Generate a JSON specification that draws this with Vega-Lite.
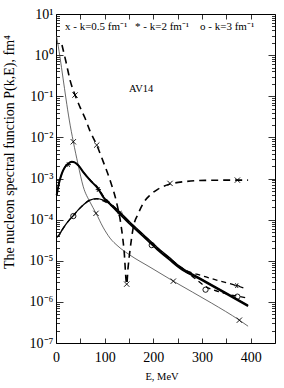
{
  "$schema": "https://vega.github.io/schema/vega-lite/v6.json",
  "width": 219,
  "height": 329,
  "autosize": {"type": "none"},
  "padding": {"left": 56, "top": 14, "right": 9, "bottom": 45},
  "background": "white",
  "config": {
    "view": {"stroke": "black", "strokeWidth": 1},
    "font": "Liberation Serif",
    "axis": {"grid": false, "domain": false, "tickColor": "black", "labelColor": "black", "titleColor": "black", "labelFont": "Liberation Serif", "titleFont": "Liberation Serif", "titleFontWeight": "normal", "tickWidth": 0.8, "labelOverlap": false, "labelBound": false, "labelFlush": false}
  },
  "datasets": {
    "curves": [
      {"c": "k05s", "E": 1.0, "P": 2.92}, {"c": "k05s", "E": 8.2, "P": 0.90}, {"c": "k05s", "E": 14.4, "P": 0.277}, {"c": "k05s", "E": 20.6, "P": 0.0855}, {"c": "k05s", "E": 27.3, "P": 0.0264}, {"c": "k05s", "E": 35.6, "P": 0.00782}, {"c": "k05s", "E": 45.2, "P": 0.00224}, {"c": "k05s", "E": 56.1, "P": 0.000628}, {"c": "k05s", "E": 69.9, "P": 0.000267}, {"c": "k05s", "E": 82.2, "P": 0.000144}, {"c": "k05s", "E": 96.6, "P": 0.0000657}, {"c": "k05s", "E": 111, "P": 0.0000355}, {"c": "k05s", "E": 127.4, "P": 0.0000226}, {"c": "k05s", "E": 152.1, "P": 0.0000137}, {"c": "k05s", "E": 193.2, "P": 0.00000698}, {"c": "k05s", "E": 241.1, "P": 0.00000319}, {"c": "k05s", "E": 320, "P": 0.000000929}, {"c": "k05s", "E": 376.8, "P": 0.000000359}, {"c": "k05s", "E": 394.7, "P": 0.000000256},
      {"c": "k05d", "E": 12.3, "P": 1.76}, {"c": "k05d", "E": 20.6, "P": 0.679}, {"c": "k05d", "E": 28.8, "P": 0.248}, {"c": "k05d", "E": 39.1, "P": 0.107}, {"c": "k05d", "E": 49.3, "P": 0.0546}, {"c": "k05d", "E": 59.6, "P": 0.0295}, {"c": "k05d", "E": 69.9, "P": 0.01422}, {"c": "k05d", "E": 83.7, "P": 0.0065}, {"c": "k05d", "E": 96.6, "P": 0.00265}, {"c": "k05d", "E": 111, "P": 0.000914}, {"c": "k05d", "E": 124.8, "P": 0.000252}, {"c": "k05d", "E": 133.6, "P": 0.0000734}, {"c": "k05d", "E": 139.8, "P": 0.0000181}, {"c": "k05d", "E": 145.3, "P": 0.0000027}, {"c": "k05d", "E": 148, "P": 0.00000661}, {"c": "k05d", "E": 152.1, "P": 0.0000181}, {"c": "k05d", "E": 158.9, "P": 0.0000657}, {"c": "k05d", "E": 168.6, "P": 0.000136}, {"c": "k05d", "E": 179.4, "P": 0.000252}, {"c": "k05d", "E": 193.2, "P": 0.000394}, {"c": "k05d", "E": 209.7, "P": 0.000552}, {"c": "k05d", "E": 234.3, "P": 0.000731}, {"c": "k05d", "E": 265.2, "P": 0.000841}, {"c": "k05d", "E": 306.3, "P": 0.0009}, {"c": "k05d", "E": 372.7, "P": 0.000914}, {"c": "k05d", "E": 394.7, "P": 0.000914},
      {"c": "k2s", "E": 1.4, "P": 0.000394}, {"c": "k2s", "E": 6.2, "P": 0.000773}, {"c": "k2s", "E": 12.3, "P": 0.00135}, {"c": "k2s", "E": 18.5, "P": 0.0019}, {"c": "k2s", "E": 25.3, "P": 0.00231}, {"c": "k2s", "E": 32.3, "P": 0.00255}, {"c": "k2s", "E": 39.1, "P": 0.00244}, {"c": "k2s", "E": 47.3, "P": 0.002}, {"c": "k2s", "E": 56.1, "P": 0.00143}, {"c": "k2s", "E": 69.9, "P": 0.000914}, {"c": "k2s", "E": 87, "P": 0.000552}, {"c": "k2s", "E": 97.2, "P": 0.000352}, {"c": "k2s", "E": 111, "P": 0.000238}, {"c": "k2s", "E": 131.5, "P": 0.000136}, {"c": "k2s", "E": 152.1, "P": 0.0000778}, {"c": "k2s", "E": 178.8, "P": 0.0000397}, {"c": "k2s", "E": 207.6, "P": 0.0000191}, {"c": "k2s", "E": 234.3, "P": 0.0000104}, {"c": "k2s", "E": 254.9, "P": 0.00000661}, {"c": "k2s", "E": 296, "P": 0.00000357}, {"c": "k2s", "E": 347.4, "P": 0.00000163}, {"c": "k2s", "E": 394.7, "P": 0.000000787},
      {"c": "k3s", "E": 1.4, "P": 0.0000375}, {"c": "k3s", "E": 6.2, "P": 0.000042}, {"c": "k3s", "E": 12.3, "P": 0.0000556}, {"c": "k3s", "E": 20.6, "P": 0.0000778}, {"c": "k3s", "E": 28.8, "P": 0.000103}, {"c": "k3s", "E": 35.6, "P": 0.000125}, {"c": "k3s", "E": 45.2, "P": 0.00017}, {"c": "k3s", "E": 57.6, "P": 0.000238}, {"c": "k3s", "E": 69.9, "P": 0.000299}, {"c": "k3s", "E": 83.7, "P": 0.000325}, {"c": "k3s", "E": 97.2, "P": 0.000299}, {"c": "k3s", "E": 111, "P": 0.000245}, {"c": "k3s", "E": 131.5, "P": 0.000152}, {"c": "k3s", "E": 152.1, "P": 0.000087}, {"c": "k3s", "E": 178.8, "P": 0.0000444}, {"c": "k3s", "E": 207.6, "P": 0.0000214}, {"c": "k3s", "E": 234.3, "P": 0.0000116}, {"c": "k3s", "E": 254.9, "P": 0.00000719}, {"c": "k3s", "E": 296, "P": 0.00000378}, {"c": "k3s", "E": 347.4, "P": 0.00000172}, {"c": "k3s", "E": 394.7, "P": 0.000000832},
      {"c": "k2d", "E": 1.4, "P": 0.000394}, {"c": "k2d", "E": 6.2, "P": 0.000773}, {"c": "k2d", "E": 12.3, "P": 0.00135}, {"c": "k2d", "E": 18.5, "P": 0.0019}, {"c": "k2d", "E": 25.3, "P": 0.00231}, {"c": "k2d", "E": 32.3, "P": 0.00255}, {"c": "k2d", "E": 39.1, "P": 0.00244}, {"c": "k2d", "E": 47.3, "P": 0.002}, {"c": "k2d", "E": 56.1, "P": 0.00143}, {"c": "k2d", "E": 69.9, "P": 0.00093}, {"c": "k2d", "E": 87, "P": 0.00058}, {"c": "k2d", "E": 97.2, "P": 0.000375}, {"c": "k2d", "E": 111, "P": 0.000255}, {"c": "k2d", "E": 131.5, "P": 0.000146}, {"c": "k2d", "E": 152.1, "P": 0.000084}, {"c": "k2d", "E": 178.8, "P": 0.000043}, {"c": "k2d", "E": 207.6, "P": 0.0000207}, {"c": "k2d", "E": 234.3, "P": 0.0000113}, {"c": "k2d", "E": 254.9, "P": 0.0000072}, {"c": "k2d", "E": 275.4, "P": 0.00000528}, {"c": "k2d", "E": 296, "P": 0.00000447}, {"c": "k2d", "E": 326.8, "P": 0.00000347}, {"c": "k2d", "E": 371.4, "P": 0.00000248}, {"c": "k2d", "E": 392.6, "P": 0.00000204},
      {"c": "k3d", "E": 1.4, "P": 0.0000375}, {"c": "k3d", "E": 6.2, "P": 0.000042}, {"c": "k3d", "E": 12.3, "P": 0.0000556}, {"c": "k3d", "E": 20.6, "P": 0.0000778}, {"c": "k3d", "E": 28.8, "P": 0.000103}, {"c": "k3d", "E": 35.6, "P": 0.000125}, {"c": "k3d", "E": 45.2, "P": 0.00017}, {"c": "k3d", "E": 57.6, "P": 0.000238}, {"c": "k3d", "E": 69.9, "P": 0.000299}, {"c": "k3d", "E": 83.7, "P": 0.00032}, {"c": "k3d", "E": 97.2, "P": 0.000285}, {"c": "k3d", "E": 111, "P": 0.00023}, {"c": "k3d", "E": 131.5, "P": 0.000142}, {"c": "k3d", "E": 152.1, "P": 0.000081}, {"c": "k3d", "E": 178.8, "P": 0.000041}, {"c": "k3d", "E": 207.6, "P": 0.00002}, {"c": "k3d", "E": 234.3, "P": 0.0000108}, {"c": "k3d", "E": 254.9, "P": 0.0000068}, {"c": "k3d", "E": 279.5, "P": 0.00000422}, {"c": "k3d", "E": 306.3, "P": 0.00000241}, {"c": "k3d", "E": 337.1, "P": 0.00000172}, {"c": "k3d", "E": 372.0, "P": 0.00000138}, {"c": "k3d", "E": 390.5, "P": 0.00000126}
    ],
    "markers": [
      {"m": "x", "E": 35.6, "P": 0.00782}, {"m": "x", "E": 82.2, "P": 0.000142}, {"m": "x", "E": 241.1, "P": 0.00000319}, {"m": "x", "E": 376.8, "P": 0.000000359},
      {"m": "x", "E": 39.1, "P": 0.107}, {"m": "x", "E": 83.7, "P": 0.0065}, {"m": "x", "E": 145.3, "P": 0.0000027}, {"m": "x", "E": 234.3, "P": 0.00076}, {"m": "x", "E": 372.7, "P": 0.000914},
      {"m": "*", "E": 25.3, "P": 0.00218}, {"m": "*", "E": 87, "P": 0.000537}, {"m": "*", "E": 131.5, "P": 0.000144}, {"m": "*", "E": 371.4, "P": 0.00000248},
      {"m": "o", "E": 35.6, "P": 0.000122}, {"m": "o", "E": 196.7, "P": 0.000024}, {"m": "o", "E": 307.3, "P": 0.00000198}, {"m": "o", "E": 372.7, "P": 0.00000134}
    ],
    "legend": [
      {"E": 18.5, "P": 4.9, "t": "x - k=0.5 fm⁻¹"},
      {"E": 162.4, "P": 4.9, "t": "* - k=2 fm⁻¹"},
      {"E": 296, "P": 4.9, "t": "o - k=3 fm⁻¹"}
    ],
    "notes": [
      {"E": 175, "P": 0.15, "t": "AV14"}
    ]
  },
  "layer": [
    {
      "data": {"name": "curves"},
      "transform": [{"filter": "datum.c == 'k05s'"}],
      "mark": {"type": "line", "color": "#444", "strokeWidth": 0.8, "interpolate": "monotone"},
      "encoding": {
        "x": {"field": "E", "type": "quantitative", "scale": {"domain": [0, 450], "nice": false, "zero": false},
          "axis": {"orient": "bottom", "values": [0, 50, 100, 150, 200, 250, 300, 350, 400], "format": "d", "labelExpr": "datum.value % 100 == 0 ? datum.label : ''", "tickSize": -5, "labelFontSize": 14, "labelFont": "Liberation Serif", "labelPadding": 12, "title": "E, MeV", "titleFont": "Liberation Serif", "titleFontSize": 10.5, "titleX": 105.5, "titleY": 33.7, "titleAlign": "center", "titleBaseline": "middle"}},
        "y": {"field": "P", "type": "quantitative", "scale": {"type": "log", "domain": [0.0000001, 10], "nice": false},
          "axis": {"orient": "left",
            "values": [0.0000001, 0.0000002, 0.0000003, 0.0000004, 0.0000005, 0.0000006, 0.0000007, 0.0000008, 0.0000009, 0.000001, 0.000002, 0.000003, 0.000004, 0.000005, 0.000006, 0.000007, 0.000008, 0.000009, 0.00001, 0.00002, 0.00003, 0.00004, 0.00005, 0.00006, 0.00007, 0.00008, 0.00009, 0.0001, 0.0002, 0.0003, 0.0004, 0.0005, 0.0006, 0.0007, 0.0008, 0.0009, 0.001, 0.002, 0.003, 0.004, 0.005, 0.006, 0.007, 0.008, 0.009, 0.01, 0.02, 0.03, 0.04, 0.05, 0.06, 0.07, 0.08, 0.09, 0.1, 0.2, 0.3, 0.4, 0.5, 0.6, 0.7, 0.8, 0.9, 1, 2, 3, 4, 5, 6, 7, 8, 9, 10],
            "labelExpr": "abs(log(datum.value)/LN10 - round(log(datum.value)/LN10)) < 0.001 ? ['10⁻⁷','10⁻⁶','10⁻⁵','10⁻⁴','10⁻³','10⁻²','10⁻¹','10⁰','10¹'][round(log(datum.value)/LN10)+7] : ''",
            "tickSize": {"condition": {"test": "abs(log(datum.value)/LN10 - round(log(datum.value)/LN10)) < 0.001", "value": -7}, "value": -3.5},
            "labelFontSize": 14, "labelFont": "Liberation Serif", "labelPadding": 10,
            "title": "The nucleon spectral function P(k,E), fm⁴", "titleFont": "Liberation Serif", "titleFontSize": 14, "titleAngle": -90, "titleX": -46.5, "titleY": 137.5, "titleAlign": "center", "titleBaseline": "middle"}}
      }
    },
    {
      "data": {"name": "curves"},
      "transform": [{"filter": "datum.c == 'k2s'"}],
      "mark": {"type": "line", "color": "black", "strokeWidth": 2, "interpolate": "monotone"},
      "encoding": {
        "x": {"field": "E", "type": "quantitative", "scale": {"domain": [0, 450], "nice": false, "zero": false},
          "axis": {"orient": "top", "values": [0, 50, 100, 150, 200, 250, 300, 350, 400], "labels": false, "tickSize": -5, "title": null}},
        "y": {"field": "P", "type": "quantitative", "scale": {"type": "log", "domain": [0.0000001, 10], "nice": false},
          "axis": {"orient": "right",
            "values": [0.0000001, 0.0000002, 0.0000003, 0.0000004, 0.0000005, 0.0000006, 0.0000007, 0.0000008, 0.0000009, 0.000001, 0.000002, 0.000003, 0.000004, 0.000005, 0.000006, 0.000007, 0.000008, 0.000009, 0.00001, 0.00002, 0.00003, 0.00004, 0.00005, 0.00006, 0.00007, 0.00008, 0.00009, 0.0001, 0.0002, 0.0003, 0.0004, 0.0005, 0.0006, 0.0007, 0.0008, 0.0009, 0.001, 0.002, 0.003, 0.004, 0.005, 0.006, 0.007, 0.008, 0.009, 0.01, 0.02, 0.03, 0.04, 0.05, 0.06, 0.07, 0.08, 0.09, 0.1, 0.2, 0.3, 0.4, 0.5, 0.6, 0.7, 0.8, 0.9, 1, 2, 3, 4, 5, 6, 7, 8, 9, 10],
            "labels": false, "title": null,
            "tickSize": {"condition": {"test": "abs(log(datum.value)/LN10 - round(log(datum.value)/LN10)) < 0.001", "value": -7}, "value": -3.5}}}
      }
    },
    {
      "data": {"name": "curves"},
      "transform": [{"filter": "datum.c == 'k3s'"}],
      "mark": {"type": "line", "color": "black", "strokeWidth": 1.3, "interpolate": "monotone"},
      "encoding": {
        "x": {"field": "E", "type": "quantitative", "scale": {"domain": [0, 450], "nice": false, "zero": false}, "axis": null},
        "y": {"field": "P", "type": "quantitative", "scale": {"type": "log", "domain": [0.0000001, 10], "nice": false}, "axis": null}
      }
    },
    {
      "data": {"name": "curves"},
      "transform": [{"filter": "datum.c == 'k05d'"}],
      "mark": {"type": "line", "color": "black", "strokeWidth": 1.6, "strokeDash": [7, 5], "interpolate": "monotone"},
      "encoding": {
        "x": {"field": "E", "type": "quantitative", "scale": {"domain": [0, 450], "nice": false, "zero": false}, "axis": null},
        "y": {"field": "P", "type": "quantitative", "scale": {"type": "log", "domain": [0.0000001, 10], "nice": false}, "axis": null}
      }
    },
    {
      "data": {"name": "curves"},
      "transform": [{"filter": "datum.c == 'k2d' || datum.c == 'k3d'"}],
      "mark": {"type": "line", "color": "black", "strokeWidth": 1.3, "strokeDash": [5, 4], "interpolate": "monotone"},
      "encoding": {
        "x": {"field": "E", "type": "quantitative", "scale": {"domain": [0, 450], "nice": false, "zero": false}, "axis": null},
        "y": {"field": "P", "type": "quantitative", "scale": {"type": "log", "domain": [0.0000001, 10], "nice": false}, "axis": null},
        "detail": {"field": "c"}
      }
    },
    {
      "data": {"name": "markers"},
      "mark": {"type": "point", "filled": false, "stroke": "black", "strokeWidth": 0.9, "size": 28, "opacity": 1},
      "encoding": {
        "x": {"field": "E", "type": "quantitative", "scale": {"domain": [0, 450], "nice": false, "zero": false}, "axis": null},
        "y": {"field": "P", "type": "quantitative", "scale": {"type": "log", "domain": [0.0000001, 10], "nice": false}, "axis": null},
        "shape": {"field": "m", "type": "nominal", "scale": {"domain": ["x", "*", "o"], "range": ["M-1,-1L1,1M-1,1L1,-1", "M-1,0L1,0M-0.5,-0.87L0.5,0.87M-0.5,0.87L0.5,-0.87", "circle"]}, "legend": null}
      }
    },
    {
      "data": {"name": "legend"},
      "mark": {"type": "text", "align": "left", "baseline": "middle", "font": "Liberation Serif", "fontSize": 11, "color": "black"},
      "encoding": {
        "x": {"field": "E", "type": "quantitative", "scale": {"domain": [0, 450], "nice": false, "zero": false}, "axis": null},
        "y": {"field": "P", "type": "quantitative", "scale": {"type": "log", "domain": [0.0000001, 10], "nice": false}, "axis": null},
        "text": {"field": "t"}
      }
    },
    {
      "data": {"name": "notes"},
      "mark": {"type": "text", "align": "center", "baseline": "middle", "font": "Liberation Serif", "fontSize": 10.5, "color": "black"},
      "encoding": {
        "x": {"field": "E", "type": "quantitative", "scale": {"domain": [0, 450], "nice": false, "zero": false}, "axis": null},
        "y": {"field": "P", "type": "quantitative", "scale": {"type": "log", "domain": [0.0000001, 10], "nice": false}, "axis": null},
        "text": {"field": "t"}
      }
    }
  ],
  "resolve": {"axis": {"x": "independent", "y": "independent"}}
}
